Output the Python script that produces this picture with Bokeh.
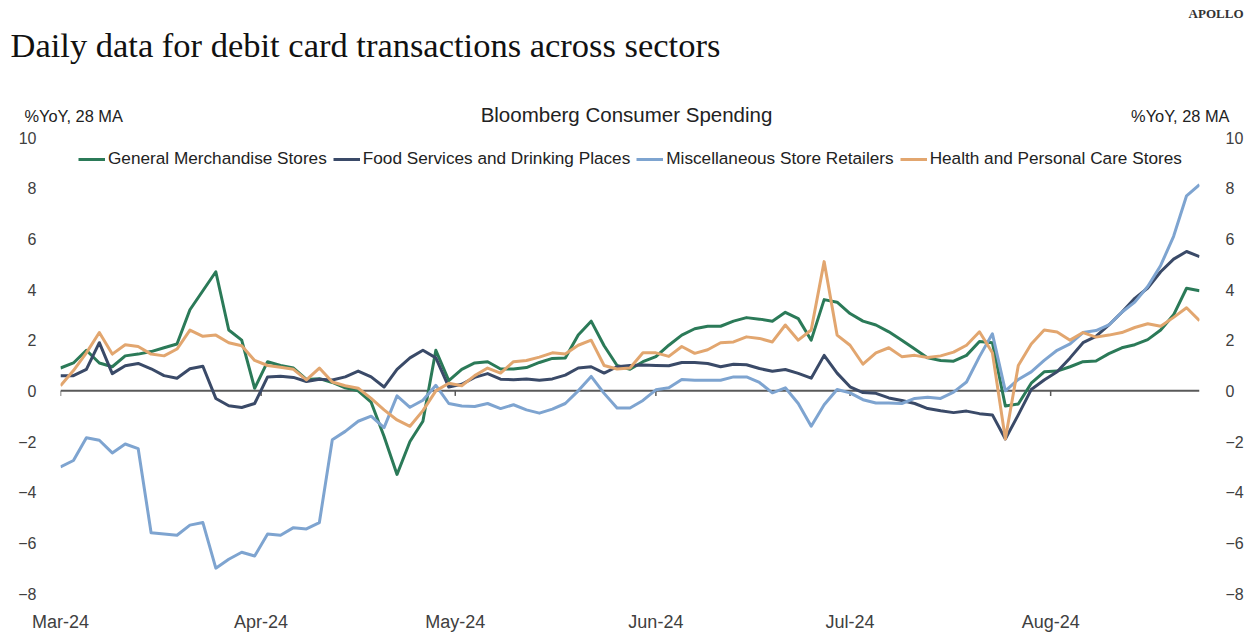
import pandas as pd
from bokeh.plotting import figure
from bokeh.layouts import column
from bokeh.models import Range1d, LinearAxis, FixedTicker, DatetimeTickFormatter, Span, Label
from bokeh.embed import file_html
from bokeh.resources import INLINE

# ---------------- data (every 2 days, %YoY 28-day MA) ----------------
dates = pd.date_range("2024-03-01", periods=89, freq="2D")

general_merchandise = [
    0.9, 1.1, 1.6, 1.1, 0.95, 1.38, 1.45, 1.55, 1.7, 1.85,
    3.2, 3.95, 4.7, 2.4, 2.0, 0.1, 1.15, 1.0, 0.9, 0.45,
    0.48, 0.33, 0.12, 0.0, -0.45, -1.8, -3.3, -2.0, -1.2, 1.6,
    0.4, 0.85, 1.1, 1.15, 0.86, 0.86, 0.92, 1.12, 1.28, 1.3,
    2.2, 2.75, 1.78, 1.0, 0.85, 1.15, 1.35, 1.8, 2.2, 2.45,
    2.55, 2.55, 2.75, 2.89, 2.83, 2.75, 3.1, 2.85, 2.0, 3.6,
    3.5, 3.05, 2.75, 2.6, 2.33, 2.0, 1.65, 1.3, 1.2, 1.17,
    1.4, 1.95, 1.9, -0.6, -0.52, 0.3, 0.75, 0.78, 0.95, 1.15,
    1.18, 1.47, 1.7, 1.82, 2.02, 2.4, 3.0, 4.05, 3.95,
]
food_services = [
    0.6, 0.6, 0.85, 1.9, 0.68, 0.99, 1.08, 0.87, 0.6, 0.5,
    0.87, 0.97, -0.3, -0.59, -0.66, -0.5, 0.55, 0.58, 0.53, 0.37,
    0.46, 0.43, 0.55, 0.78, 0.55, 0.15, 0.85, 1.3, 1.6, 1.3,
    0.15, 0.26, 0.53, 0.68, 0.46, 0.44, 0.47, 0.42, 0.47, 0.62,
    0.9, 0.95, 0.7, 0.95, 1.0, 1.02, 1.0, 0.99, 1.12, 1.12,
    1.08, 0.95, 1.05, 1.03, 0.88, 0.77, 0.84, 0.69, 0.5, 1.4,
    0.7, 0.16, -0.07, -0.1, -0.28, -0.38, -0.5, -0.7, -0.79, -0.86,
    -0.8, -0.9, -0.95, -1.9, -0.95, 0.05, 0.43, 0.75, 1.3, 1.9,
    2.15, 2.6, 3.1, 3.65, 4.06, 4.7, 5.2, 5.5, 5.3,
]
misc_retailers = [
    -3.0, -2.75, -1.85, -1.95, -2.45, -2.1, -2.28, -5.6, -5.65, -5.7,
    -5.3, -5.2, -7.0, -6.65, -6.37, -6.52, -5.65, -5.7, -5.4, -5.45,
    -5.2, -1.93, -1.6, -1.2, -1.0, -1.45, -0.2, -0.65, -0.37, 0.22,
    -0.5, -0.6, -0.62, -0.5, -0.7, -0.55, -0.75, -0.88, -0.72, -0.5,
    0.0, 0.57, -0.1, -0.68, -0.68, -0.38, 0.04, 0.12, 0.45, 0.42,
    0.42, 0.42, 0.55, 0.55, 0.33, -0.08, 0.12, -0.5, -1.4, -0.55,
    0.05, -0.08, -0.35, -0.48, -0.48, -0.5, -0.3, -0.25, -0.3, -0.05,
    0.35, 1.35, 2.25, 0.0, 0.45, 0.75, 1.2, 1.6, 1.85, 2.3,
    2.38, 2.6, 3.1, 3.5, 4.12, 4.95, 6.1, 7.7, 8.14,
]
health_personal = [
    0.2, 0.8, 1.5, 2.3, 1.45, 1.82, 1.75, 1.45, 1.38, 1.65,
    2.4, 2.15, 2.2, 1.9, 1.78, 1.2, 1.0, 0.93, 0.85, 0.43,
    0.9, 0.35, 0.2, 0.1, -0.3, -0.75, -1.15, -1.4, -0.78, 0.0,
    0.3, 0.2, 0.6, 0.9, 0.7, 1.15, 1.2, 1.33, 1.5, 1.45,
    1.8, 2.0, 1.0, 0.86, 0.9, 1.5, 1.5, 1.36, 1.75, 1.48,
    1.62, 1.9, 1.93, 2.13, 2.07, 1.93, 2.6, 2.0, 2.4, 5.1,
    2.2, 1.8, 1.05, 1.5, 1.7, 1.35, 1.4, 1.32, 1.38, 1.53,
    1.8, 2.33, 1.5, -1.9, 1.0, 1.85, 2.4, 2.32, 2.0, 2.3,
    2.12, 2.2, 2.3, 2.5, 2.65, 2.55, 2.9, 3.28, 2.77,
]

series_names = [
    "General Merchandise Stores",
    "Food Services and Drinking Places",
    "Miscellaneous Store Retailers",
    "Health and Personal Care Stores",
]
series_colors = ["#2b7a58", "#3a4a68", "#7ea4d0", "#e2a66f"]

month_ticks = pd.date_range("2024-03-01", "2024-08-01", freq="MS")
y_ticks = [-8, -6, -4, -2, 0, 2, 4, 6, 8, 10]

SANS = "Liberation Sans"
SERIF = "Liberation Serif"
TICK_COLOR = "#404040"
W = 1250
HEADER_H = 127

# ---------------- header figure (titles) ----------------
h = figure(width=W, height=HEADER_H, x_range=Range1d(0, W), y_range=Range1d(0, HEADER_H),
           output_backend="svg", toolbar_location=None, min_border=0,
           x_axis_location=None, y_axis_location=None)
h.outline_line_color = None
h.grid.visible = False
h.background_fill_color = "white"
h.border_fill_color = "white"

# screen units: x from the left edge, y up from the bottom edge of the header
h.add_layout(Label(x=10, y=HEADER_H - 44, x_units="screen", y_units="screen",
                   text="Daily data for debit card transactions across sectors",
                   text_font=SERIF, text_font_size="34.5px", text_color="#111111",
                   text_baseline="middle", text_align="left"))
h.add_layout(Label(x=1243, y=HEADER_H - 13, x_units="screen", y_units="screen", text="APOLLO",
                   text_font=SERIF, text_font_size="13px", text_font_style="bold",
                   text_color="#333333", text_baseline="middle", text_align="right"))
h.add_layout(Label(x=24, y=HEADER_H - 115, x_units="screen", y_units="screen", text="%YoY, 28 MA",
                   text_font=SANS, text_font_size="16.4px", text_color="#222222",
                   text_baseline="middle", text_align="left"))
h.add_layout(Label(x=1229, y=HEADER_H - 115, x_units="screen", y_units="screen", text="%YoY, 28 MA",
                   text_font=SANS, text_font_size="16.4px", text_color="#222222",
                   text_baseline="middle", text_align="right"))
h.add_layout(Label(x=626, y=HEADER_H - 114, x_units="screen", y_units="screen",
                   text="Bloomberg Consumer Spending",
                   text_font=SANS, text_font_size="20.5px", text_color="#222222",
                   text_baseline="middle", text_align="center"))

# ---------------- chart figure ----------------
p = figure(
    frame_width=1139, frame_height=456,
    min_border_left=60, min_border_right=W - 60 - 1139,
    min_border_top=137 - HEADER_H, min_border_bottom=47 + HEADER_H - 131,
    x_axis_type="datetime",
    x_range=Range1d(dates[0], dates[-1]), y_range=Range1d(-8, 10),
    output_backend="svg", toolbar_location=None,
)
p.outline_line_color = None
p.xgrid.visible = False
p.ygrid.visible = False
p.background_fill_color = "white"
p.border_fill_color = "white"

# do not align the header's frame with the chart's frame
for f in (h, p):
    try:
        f.frame_align = False
    except AttributeError:
        pass

# x axis (labels at bottom)
xa = p.xaxis[0]
xa.ticker = FixedTicker(ticks=(month_ticks.astype("int64") // 10**6).tolist())
fmt = "%b-%y"
xa.formatter = DatetimeTickFormatter(
    milliseconds=fmt, seconds=fmt, minsec=fmt, minutes=fmt, hourmin=fmt,
    hours=fmt, days=fmt, months=fmt, years=fmt,
)
xa.axis_line_color = None
xa.major_tick_line_color = None
xa.minor_tick_line_color = None
xa.major_label_standoff = 12
xa.major_label_text_font = SANS
xa.major_label_text_font_size = "18px"
xa.major_label_text_color = TICK_COLOR

# left y axis
ya = p.yaxis[0]
ya.ticker = FixedTicker(ticks=y_ticks)
ya.axis_line_color = None
ya.major_tick_line_color = None
ya.minor_tick_line_color = None
ya.major_label_standoff = 18
ya.major_label_text_font = SANS
ya.major_label_text_font_size = "16px"
ya.major_label_text_color = TICK_COLOR

# right y axis
yr = LinearAxis(ticker=FixedTicker(ticks=y_ticks))
yr.axis_line_color = None
yr.major_tick_line_color = None
yr.minor_tick_line_color = None
yr.major_label_standoff = 20
yr.major_label_text_font = SANS
yr.major_label_text_font_size = "16px"
yr.major_label_text_color = TICK_COLOR
p.add_layout(yr, "right")

# zero line with month tick marks
p.add_layout(Span(location=0, dimension="width", line_color="#595959", line_width=2, level="underlay"))
p.segment(x0=month_ticks, y0=0, x1=month_ticks, y1=-0.2, line_color="#595959", line_width=1.5)

# series
for name, vals, col in zip(series_names,
                           [general_merchandise, food_services, misc_retailers, health_personal],
                           series_colors):
    p.line(dates, vals, line_color=col, line_width=3, line_join="round", legend_label=name)

# legend
lg = p.legend[0]
lg.orientation = "horizontal"
lg.location = (18, 424)
lg.border_line_color = None
lg.background_fill_alpha = 0
lg.padding = 0
lg.margin = 0
lg.spacing = 6
lg.glyph_width = 27
lg.glyph_height = 20
lg.label_height = 20
lg.label_standoff = 3
lg.label_text_font = SANS
lg.label_text_font_size = "17.2px"
lg.label_text_color = "#222222"

layout = column(h, p, spacing=0)
open("out.html", "w").write(file_html(layout, INLINE))
